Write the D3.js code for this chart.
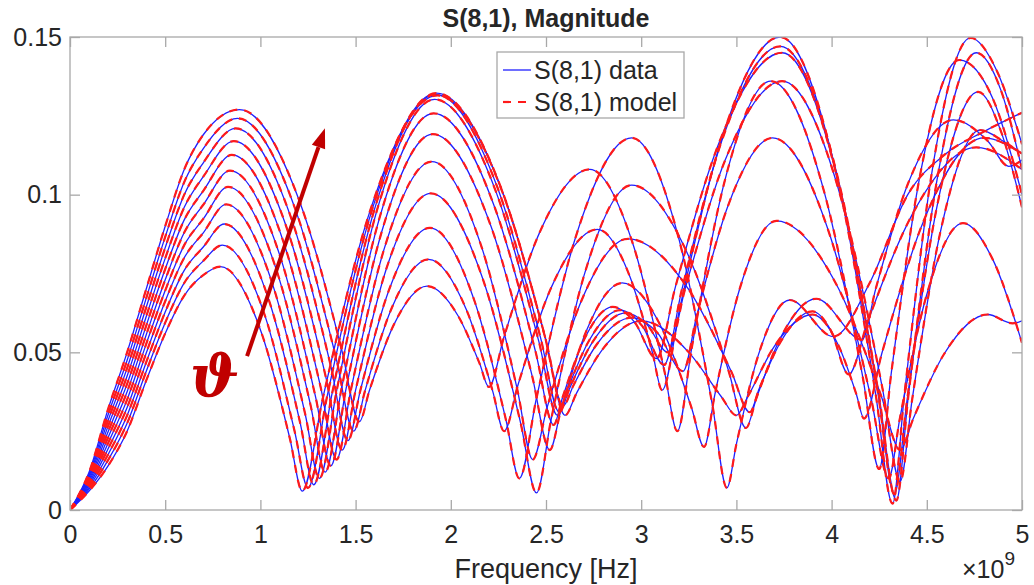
<!DOCTYPE html>
<html>
<head>
<meta charset="utf-8">
<script src="https://cdn.jsdelivr.net/npm/d3@7"></script>
<style>
  body { margin: 0; background: #fff; }
  svg { display: block; font-family: "Liberation Sans", Arial, Helvetica, sans-serif; }
</style>
</head>
<body>
<svg id="chart" width="1034" height="585"></svg>
<script>
// frequency in units of 1e9 Hz, magnitude linear
const freqTicks = [0, 0.5, 1, 1.5, 2, 2.5, 3, 3.5, 4, 4.5, 5];
const magTicks = [0, 0.05, 0.1, 0.15];

// one array per angle, lowest first-lobe curve first
const theta1 = [[0,0],[0.1,0.006],[0.2,0.014],[0.3,0.025],[0.4,0.041],[0.5,0.056],[0.6,0.068],[0.7,0.0745],[0.79,0.0772],[1.005,0.0563],[1.155,0.0226],[1.22,0.006],[1.327,0.0352],[1.575,0.0947],[1.93,0.1315],[2.265,0.1018],[2.5,0.0537],[2.6,0.03],[2.66,0.037],[2.8,0.0512],[3.0,0.06],[3.25,0.05],[3.42,0.036],[3.5,0.03],[3.56,0.036],[3.7,0.052],[3.9,0.062],[4.035,0.0523],[4.13,0.0367],[4.17,0.029],[4.264,0.0497],[4.485,0.0919],[4.8,0.118],[5,0.113]];
const theta2 = [[0,0],[0.1,0.0066],[0.2,0.0158],[0.3,0.0275],[0.4,0.0439],[0.5,0.0594],[0.6,0.072],[0.7,0.079],[0.8,0.084],[1.025,0.0614],[1.18,0.0249],[1.25,0.007],[1.351,0.0362],[1.588,0.0955],[1.925,0.1322],[2.258,0.1031],[2.49,0.0561],[2.59,0.033],[2.644,0.0395],[2.77,0.0528],[2.95,0.061],[3.085,0.0562],[3.22,0.044],[3.29,0.0612],[3.455,0.0963],[3.69,0.118],[3.995,0.0864],[4.208,0.0352],[4.3,0.01],[4.358,0.0289],[4.495,0.0673],[4.69,0.091],[4.85,0.079],[5,0.053]];
const theta3 = [[0,0],[0.1,0.0072],[0.2,0.0176],[0.3,0.03],[0.4,0.0468],[0.5,0.0628],[0.6,0.076],[0.7,0.0834],[0.81,0.0907],[1.045,0.0665],[1.21,0.0273],[1.28,0.008],[1.376,0.0368],[1.6,0.0955],[1.92,0.1318],[2.245,0.1023],[2.472,0.0545],[2.57,0.031],[2.622,0.0383],[2.745,0.0533],[2.92,0.0625],[3.03,0.0588],[3.14,0.05],[3.23,0.07],[3.44,0.1108],[3.74,0.136],[4.05,0.0988],[4.267,0.0386],[4.36,0.009],[4.423,0.035],[4.57,0.0878],[4.78,0.1205],[4.9,0.117],[5,0.113]];
const theta4 = [[0,0],[0.1,0.0078],[0.2,0.0194],[0.3,0.0325],[0.4,0.0497],[0.5,0.0662],[0.6,0.08],[0.7,0.0879],[0.82,0.0969],[1.065,0.0714],[1.236,0.0302],[1.31,0.01],[1.401,0.038],[1.612,0.095],[1.915,0.1302],[2.238,0.1008],[2.463,0.0533],[2.56,0.03],[2.61,0.0378],[2.725,0.0536],[2.89,0.0634],[3.005,0.0584],[3.12,0.046],[3.212,0.0695],[3.425,0.1174],[3.73,0.147],[4.035,0.1048],[4.248,0.0366],[4.34,0.003],[4.403,0.0361],[4.55,0.1034],[4.76,0.145],[4.89,0.133],[5,0.108]];
const theta5 = [[0,0],[0.1,0.0084],[0.2,0.0212],[0.3,0.035],[0.4,0.0526],[0.5,0.0696],[0.6,0.084],[0.7,0.0923],[0.83,0.1025],[1.085,0.076],[1.264,0.0331],[1.34,0.012],[1.426,0.0385],[1.625,0.0925],[1.91,0.1258],[2.225,0.0969],[2.446,0.05],[2.54,0.027],[2.587,0.0357],[2.695,0.0534],[2.85,0.0644],[2.965,0.0596],[3.08,0.048],[3.179,0.0706],[3.41,0.1166],[3.74,0.145],[4.035,0.104],[4.242,0.0376],[4.33,0.005],[4.396,0.0347],[4.55,0.0952],[4.77,0.1326],[4.89,0.12],[5,0.096]];
const theta6 = [[0,0],[0.1,0.009],[0.2,0.023],[0.3,0.0375],[0.4,0.0555],[0.5,0.073],[0.6,0.088],[0.7,0.0968],[0.84,0.1076],[1.105,0.0802],[1.29,0.0358],[1.37,0.014],[1.45,0.0385],[1.638,0.0884],[1.905,0.1192],[2.212,0.0898],[2.428,0.0423],[2.52,0.019],[2.577,0.0313],[2.71,0.0565],[2.9,0.072],[3.115,0.0568],[3.266,0.0321],[3.33,0.02],[3.387,0.0367],[3.52,0.0707],[3.71,0.0917],[4.035,0.0704],[4.262,0.0359],[4.36,0.019],[4.429,0.029],[4.59,0.0494],[4.82,0.062],[4.95,0.0592],[5,0.06]];
const theta7 = [[0,0],[0.1,0.0096],[0.2,0.0248],[0.3,0.04],[0.4,0.0584],[0.5,0.0764],[0.6,0.092],[0.7,0.1012],[0.85,0.1126],[1.125,0.0843],[1.318,0.0385],[1.4,0.016],[1.475,0.038],[1.65,0.0828],[1.9,0.1105],[2.165,0.0828],[2.35,0.038],[2.43,0.016],[2.505,0.0323],[2.68,0.0655],[2.93,0.086],[3.25,0.0699],[3.474,0.0438],[3.57,0.031],[3.62,0.0385],[3.735,0.0536],[3.9,0.063],[3.995,0.0571],[4.09,0.043],[4.19,0.0598],[4.425,0.0939],[4.76,0.115],[5,0.108]];
const theta8 = [[0,0],[0.1,0.0102],[0.2,0.0266],[0.3,0.0425],[0.4,0.0613],[0.5,0.0798],[0.6,0.096],[0.7,0.1057],[0.86,0.117],[1.145,0.0883],[1.345,0.0418],[1.43,0.019],[1.5,0.038],[1.662,0.0766],[1.895,0.1004],[2.172,0.0726],[2.367,0.0275],[2.45,0.0054],[2.525,0.0281],[2.7,0.0744],[2.95,0.103],[3.25,0.0804],[3.46,0.0439],[3.55,0.026],[3.606,0.0356],[3.735,0.055],[3.92,0.067],[4.16,0.054],[4.232,0.0702],[4.4,0.1033],[4.64,0.1237],[4.82,0.117],[4.93,0.109],[5,0.111]];
const theta9 = [[0,0],[0.1,0.0108],[0.2,0.0284],[0.3,0.045],[0.4,0.0642],[0.5,0.0832],[0.6,0.1],[0.7,0.1101],[0.87,0.121],[1.165,0.092],[1.372,0.0451],[1.46,0.022],[1.524,0.0377],[1.675,0.0697],[1.89,0.0895],[2.125,0.0662],[2.29,0.0285],[2.36,0.01],[2.449,0.0352],[2.655,0.0864],[2.95,0.118],[3.2,0.0855],[3.375,0.0329],[3.45,0.007],[3.5,0.0209],[3.615,0.0491],[3.78,0.0666],[4.01,0.055],[4.2,0.072],[4.4,0.1],[4.6,0.113],[4.8,0.12],[5,0.126]];
const theta10 = [[0,0],[0.1,0.0114],[0.2,0.0302],[0.3,0.0475],[0.4,0.0671],[0.5,0.0866],[0.6,0.104],[0.7,0.1146],[0.88,0.1242],[1.185,0.0951],[1.398,0.0481],[1.49,0.025],[1.549,0.0377],[1.686,0.0635],[1.883,0.0795],[2.082,0.0635],[2.22,0.0377],[2.28,0.025],[2.354,0.0399],[2.525,0.0702],[2.77,0.089],[2.94,0.0741],[3.059,0.0499],[3.11,0.038],[3.203,0.0641],[3.42,0.1172],[3.73,0.15],[4.025,0.1066],[4.232,0.0365],[4.32,0.002],[4.382,0.0364],[4.525,0.1064],[4.73,0.1497],[4.87,0.139],[5,0.116]];
const theta11 = [[0,0],[0.1,0.012],[0.2,0.032],[0.3,0.05],[0.4,0.07],[0.5,0.09],[0.6,0.108],[0.7,0.119],[0.89,0.127],[1.205,0.098],[1.426,0.0511],[1.52,0.028],[1.573,0.038],[1.698,0.0584],[1.875,0.071],[2.038,0.0616],[2.151,0.0465],[2.2,0.039],[2.28,0.055],[2.465,0.0878],[2.73,0.108],[2.96,0.0837],[3.121,0.0443],[3.19,0.025],[3.264,0.0509],[3.435,0.1035],[3.68,0.136],[3.965,0.1],[4.165,0.0417],[4.25,0.013],[4.313,0.0432],[4.46,0.1047],[4.67,0.1427],[4.85,0.13],[5,0.1]];

const curves = [theta1, theta2, theta3, theta4, theta5, theta6, theta7, theta8, theta9, theta10, theta11];

// arrow annotation, in data units
const arrowFrom = [0.93, 0.0488];
const arrowTo = [1.339, 0.1211];
const thetaLabelAt = [0.63, 0.036];

const width = 1034, height = 585;
const plotLeft = 70, plotRight = 1022, plotTop = 37, plotBottom = 510;
const textColor = "#262626", boxColor = "#a8a8a8";
const dataColor = "#1f1fff", modelColor = "#ff1a1a";

const x = d3.scaleLinear().domain([0, 5]).range([plotLeft, plotRight]);
const y = d3.scaleLinear().domain([0, 0.15]).range([plotBottom, plotTop]);

const svg = d3.select("#chart");
svg.append("rect").attr("width", width).attr("height", height).attr("fill", "#fff");

svg.append("clipPath").attr("id", "plot-clip")
  .append("rect").attr("x", plotLeft).attr("y", plotTop)
  .attr("width", plotRight - plotLeft).attr("height", plotBottom - plotTop);

const line = d3.line()
  .x(d => x(d[0]))
  .y(d => y(d[1]))
  .curve(d3.curveMonotoneX);

const plot = svg.append("g").attr("clip-path", "url(#plot-clip)");

plot.selectAll("path.data")
  .data(curves)
  .join("path")
  .attr("class", "data")
  .attr("d", line)
  .attr("fill", "none")
  .attr("stroke", dataColor)
  .attr("stroke-width", 1.3);

plot.selectAll("path.model")
  .data(curves)
  .join("path")
  .attr("class", "model")
  .attr("d", line)
  .attr("fill", "none")
  .attr("stroke", modelColor)
  .attr("stroke-width", 2.2)
  .attr("stroke-dasharray", "8,7");

// axes: MATLAB style, inward ticks on all four sides
const fmt = d3.format("~g");
const styleAxis = g => {
  g.select(".domain").remove();
  g.selectAll(".tick line").attr("stroke", boxColor).attr("stroke-width", 1.3);
  g.selectAll(".tick text").attr("fill", textColor).attr("font-size", 25);
  g.attr("font-family", null);
};

svg.append("g")
  .attr("transform", `translate(0,${plotBottom})`)
  .call(d3.axisBottom(x).tickValues(freqTicks).tickFormat(fmt).tickSize(-10).tickPadding(15))
  .call(styleAxis);

svg.append("g")
  .attr("transform", `translate(0,${plotTop})`)
  .call(d3.axisTop(x).tickValues(freqTicks).tickFormat("").tickSize(-10))
  .call(styleAxis);

svg.append("g")
  .attr("transform", `translate(${plotLeft},0)`)
  .call(d3.axisLeft(y).tickValues(magTicks).tickFormat(fmt).tickSize(-10).tickPadding(8))
  .call(styleAxis);

svg.append("g")
  .attr("transform", `translate(${plotRight},0)`)
  .call(d3.axisRight(y).tickValues(magTicks).tickFormat("").tickSize(-10))
  .call(styleAxis);

svg.append("rect")
  .attr("x", plotLeft).attr("y", plotTop)
  .attr("width", plotRight - plotLeft).attr("height", plotBottom - plotTop)
  .attr("fill", "none").attr("stroke", boxColor).attr("stroke-width", 1.3);

// title and labels
svg.append("text")
  .attr("x", (plotLeft + plotRight) / 2).attr("y", 27)
  .attr("text-anchor", "middle")
  .attr("font-size", 25).attr("font-weight", "bold").attr("fill", textColor)
  .text("S(8,1), Magnitude");

svg.append("text")
  .attr("x", (plotLeft + plotRight) / 2).attr("y", 578)
  .attr("text-anchor", "middle")
  .attr("font-size", 27).attr("fill", textColor)
  .text("Frequency [Hz]");

const exponent = svg.append("text")
  .attr("x", 962).attr("y", 578)
  .attr("font-size", 25).attr("fill", textColor);
exponent.append("tspan").text("\u00d710");
exponent.append("tspan").attr("font-size", 19).attr("dy", -13).text("9");

// legend
const legend = svg.append("g").attr("transform", "translate(497,52)");
legend.append("rect")
  .attr("width", 187).attr("height", 66)
  .attr("fill", "#fff").attr("stroke", boxColor).attr("stroke-width", 1.3);
const items = [
  {label: "S(8,1) data", color: dataColor, w: 1.3, dash: null},
  {label: "S(8,1) model", color: modelColor, w: 2.2, dash: "8,7"}
];
items.forEach((it, i) => {
  const yy = 18 + i * 32;
  legend.append("line")
    .attr("x1", 6).attr("x2", 34).attr("y1", yy).attr("y2", yy)
    .attr("stroke", it.color).attr("stroke-width", it.w)
    .attr("stroke-dasharray", it.dash);
  legend.append("text")
    .attr("x", 37).attr("y", yy).attr("dy", "0.35em")
    .attr("font-size", 25).attr("fill", textColor)
    .text(it.label);
});

// theta arrow
const arrowColor = "#c00000";
const ax1 = x(arrowFrom[0]), ay1 = y(arrowFrom[1]);
const ax2 = x(arrowTo[0]), ay2 = y(arrowTo[1]);
const ang = Math.atan2(ay2 - ay1, ax2 - ax1);
const headLen = 20, headHalf = 7;
const bx = ax2 - headLen * Math.cos(ang), by = ay2 - headLen * Math.sin(ang);
svg.append("line")
  .attr("x1", ax1).attr("y1", ay1).attr("x2", bx).attr("y2", by)
  .attr("stroke", arrowColor).attr("stroke-width", 4);
svg.append("path")
  .attr("d", `M${ax2},${ay2}L${bx - headHalf * Math.sin(ang)},${by + headHalf * Math.cos(ang)}L${bx + headHalf * Math.sin(ang)},${by - headHalf * Math.cos(ang)}Z`)
  .attr("fill", arrowColor);

svg.append("text")
  .attr("x", x(thetaLabelAt[0])).attr("y", y(thetaLabelAt[1]))
  .attr("font-family", "'DejaVu Serif', serif")
  .attr("font-style", "italic").attr("font-weight", "bold")
  .attr("font-size", 58).attr("fill", arrowColor)
  .text("\u03d1");
</script>
</body>
</html>
